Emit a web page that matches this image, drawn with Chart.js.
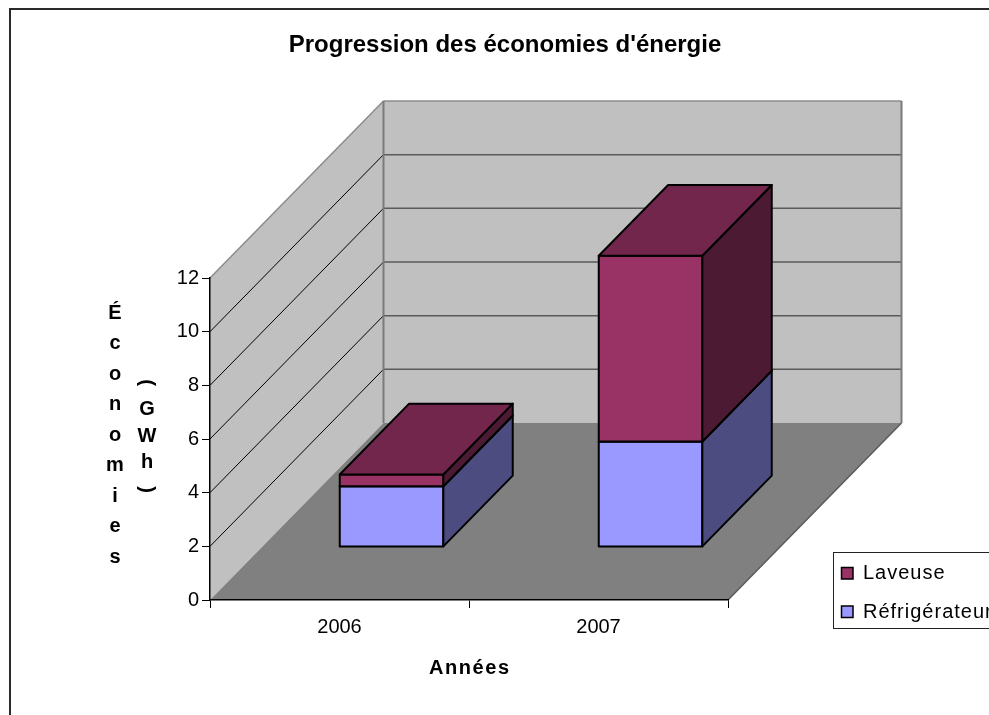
<!DOCTYPE html>
<html>
<head>
<meta charset="utf-8">
<title>Progression des économies d'énergie</title>
<script src="https://cdn.jsdelivr.net/npm/chart.js@4/dist/chart.umd.min.js"></script>
<style>
  html, body { margin: 0; padding: 0; background: #ffffff; }
  canvas { display: block; }
</style>
</head>
<body>
<canvas id="chart" width="989" height="715"></canvas>
<script>
// ---- data ----
const years = ['2006', '2007'];
const refrigerateur = [2.26, 3.93];
const laveuse = [0.44, 6.92];
const yTickValues = [0, 2, 4, 6, 8, 10, 12];
const seriesNames = ['Réfrigérateur', 'Laveuse'];
const chartTitle = "Progression des économies d'énergie";
const xTitle = 'Années';
const yTitleWord = 'Économies';
const yTitleUnit = '(GWh)';

// ---- look ----
const FONT = '"Liberation Sans", Arial, Helvetica, sans-serif';
const DX = 173.5, DY = 177;          // depth of the floor, in pixels
const BAR_FRONT = 0.3, BAR_DEPTH = 0.4;
const seriesColors = [
  { front: '#9999FF', side: '#4C4C80', top: '#7373BF' },
  { front: '#993366', side: '#4D1A33', top: '#72264C' }
];

function poly(ctx, pts, fill, stroke, lw) {
  ctx.beginPath();
  ctx.moveTo(pts[0][0], pts[0][1]);
  for (let i = 1; i < pts.length; i++) ctx.lineTo(pts[i][0], pts[i][1]);
  ctx.closePath();
  if (fill) { ctx.fillStyle = fill; ctx.fill(); }
  if (stroke) { ctx.strokeStyle = stroke; ctx.lineWidth = lw || 1; ctx.stroke(); }
}
function seg(ctx, x0, y0, x1, y1, color, lw) {
  ctx.beginPath();
  ctx.moveTo(x0, y0); ctx.lineTo(x1, y1);
  ctx.strokeStyle = color; ctx.lineWidth = lw; ctx.stroke();
}
// text with extra letter spacing, trailing space removed before aligning
function spacedText(ctx, text, x, y, spacing, align) {
  ctx.save();
  ctx.letterSpacing = spacing + 'px';
  ctx.textAlign = 'left';
  const w = ctx.measureText(text).width - spacing;
  const sx = align === 'center' ? x - w / 2 : x;
  ctx.fillText(text, sx, y);
  ctx.restore();
}
// one character per line, centred on (x, mid)
function stackedText(ctx, text, x, mid, step) {
  const chars = Array.from(text);
  chars.forEach((ch, k) => {
    const yy = mid + (k - (chars.length - 1) / 2) * step;
    if (ch === '(' || ch === ')') {
      ctx.save();
      ctx.translate(x, yy);
      ctx.rotate(Math.PI / 2);
      ctx.fillText(ch, 0, 0);
      ctx.restore();
    } else {
      ctx.fillText(ch, x, yy);
    }
  });
}

// walls, floor, 3D boxes, titles and legend
const box3d = {
  id: 'box3d',
  beforeDraw(chart) {
    const { ctx, chartArea: a, scales: { y } } = chart;
    ctx.save();
    ctx.fillStyle = '#ffffff';
    ctx.fillRect(0, 0, chart.width, chart.height);
    // outer frame
    ctx.strokeStyle = '#2a2a2a'; ctx.lineWidth = 2;
    ctx.beginPath();
    ctx.moveTo(10, chart.height + 5); ctx.lineTo(10, 9); ctx.lineTo(chart.width + 5, 9);
    ctx.stroke();

    const x0 = a.left, x1 = a.right;
    const yb = y.getPixelForValue(y.min), yt = y.getPixelForValue(y.max);
    // left wall, back wall, floor
    poly(ctx, [[x0, yb], [x0, yt], [x0 + DX, yt - DY], [x0 + DX, yb - DY]], '#C0C0C0');
    poly(ctx, [[x0 + DX, yb - DY], [x0 + DX, yt - DY], [x1 + DX, yt - DY], [x1 + DX, yb - DY]], '#C0C0C0');
    poly(ctx, [[x0, yb], [x1, yb], [x1 + DX, yb - DY], [x0 + DX, yb - DY]], '#808080');
    // gridlines on the walls
    yTickValues.forEach(v => {
      if (v === y.min || v === y.max) return;
      const py = y.getPixelForValue(v);
      seg(ctx, x0, py, x0 + DX, py - DY, '#000000', 1);
      seg(ctx, x0 + DX, py - DY, x1 + DX, py - DY, '#5A5A5A', 1.5);
    });
    // wall edges
    seg(ctx, x0, yt, x0 + DX, yt - DY, '#8C8C8C', 1.5);
    seg(ctx, x0 + DX, yt - DY, x1 + DX, yt - DY, '#8C8C8C', 1.5);
    seg(ctx, x0 + DX, yt - DY, x0 + DX, yb - DY, '#7A7A7A', 2);
    seg(ctx, x1 + DX, yt - DY, x1 + DX, yb - DY, '#7A7A7A', 2);
    seg(ctx, x1, yb, x1 + DX, yb - DY, '#5A5A5A', 1.5);
    ctx.restore();
  },
  beforeDatasetDraw() { return false; },
  afterDatasetsDraw(chart) {
    const ctx = chart.ctx;
    const ox = BAR_FRONT * DX, oy = -BAR_FRONT * DY;
    const dx = BAR_DEPTH * DX, dy = -BAR_DEPTH * DY;
    ctx.save();
    ctx.lineJoin = 'round';
    years.forEach((_, i) => {
      chart.data.datasets.forEach((ds, d) => {
        const el = chart.getDatasetMeta(d).data[i];
        const p = el.getProps(['x', 'y', 'base', 'width'], true);
        const l = p.x - p.width / 2 + ox, r = p.x + p.width / 2 + ox;
        const t = p.y + oy, b = p.base + oy;
        const c = seriesColors[d];
        poly(ctx, [[l, t], [r, t], [r, b], [l, b]], c.front, '#000', 2);
        poly(ctx, [[r, b], [r, t], [r + dx, t + dy], [r + dx, b + dy]], c.side, '#000', 2);
        poly(ctx, [[l, t], [r, t], [r + dx, t + dy], [l + dx, t + dy]], c.top, '#000', 2);
      });
    });
    ctx.restore();
  },
  afterDraw(chart) {
    const ctx = chart.ctx;
    const a = chart.chartArea;
    ctx.save();
    ctx.fillStyle = '#000';
    // chart title
    ctx.font = 'bold 24px ' + FONT;
    ctx.textAlign = 'center';
    ctx.textBaseline = 'alphabetic';
    ctx.fillText(chartTitle, 505, 52);
    // x axis title
    ctx.font = 'bold 20px ' + FONT;
    ctx.textBaseline = 'middle';
    spacedText(ctx, xTitle, (a.left + a.right) / 2, 668, 1.6, 'center');
    // y axis title, stacked letters in two columns
    ctx.textAlign = 'center';
    stackedText(ctx, yTitleWord, 115, 435, 30.5);
    stackedText(ctx, yTitleUnit, 147, 436, 26.75);
    // legend (top series first)
    ctx.fillStyle = '#ffffff';
    ctx.fillRect(833.5, 552.5, 200, 76);
    ctx.strokeStyle = '#222'; ctx.lineWidth = 1;
    ctx.strokeRect(833.5, 552.5, 200, 76);
    ctx.font = '20px ' + FONT;
    const order = [1, 0];
    order.forEach((d, k) => {
      const cy = 573.5 + k * 38.5;
      ctx.fillStyle = chart.data.datasets[d].backgroundColor;
      ctx.fillRect(841.5, cy - 6, 11.5, 11.5);
      ctx.strokeStyle = '#000'; ctx.lineWidth = 1.5;
      ctx.strokeRect(841.5, cy - 6, 11.5, 11.5);
      ctx.fillStyle = '#000';
      spacedText(ctx, chart.data.datasets[d].label, 863, cy, 1, 'left');
    });
    ctx.restore();
  }
};

new Chart(document.getElementById('chart'), {
  type: 'bar',
  data: {
    labels: years,
    datasets: [
      { label: seriesNames[0], data: refrigerateur, backgroundColor: seriesColors[0].front },
      { label: seriesNames[1], data: laveuse, backgroundColor: seriesColors[1].front }
    ]
  },
  options: {
    responsive: false,
    animation: false,
    events: [],
    layout: { padding: { left: 0, top: 278, right: 261, bottom: 0 } },
    datasets: { bar: { categoryPercentage: 1, barPercentage: 0.4 } },
    plugins: { legend: { display: false }, title: { display: false }, tooltip: { enabled: false } },
    scales: {
      x: {
        stacked: true,
        grid: { drawOnChartArea: false, offset: true, tickLength: 8, color: '#000', lineWidth: 1 },
        border: { color: '#000', width: 1.5 },
        ticks: { color: '#000', font: { family: FONT, size: 20 }, padding: 7 },
        afterFit(s) { s.height = 115; }
      },
      y: {
        stacked: true,
        min: 0, max: 12,
        afterBuildTicks(s) { s.ticks = yTickValues.map(v => ({ value: v })); },
        grid: { drawOnChartArea: false, tickLength: 8, color: '#000', lineWidth: 1 },
        border: { color: '#000', width: 1.5 },
        ticks: { color: '#000', font: { family: FONT, size: 20 }, padding: 3 },
        afterFit(s) { s.width = 210; }
      }
    }
  },
  plugins: [box3d]
});
</script>
</body>
</html>
